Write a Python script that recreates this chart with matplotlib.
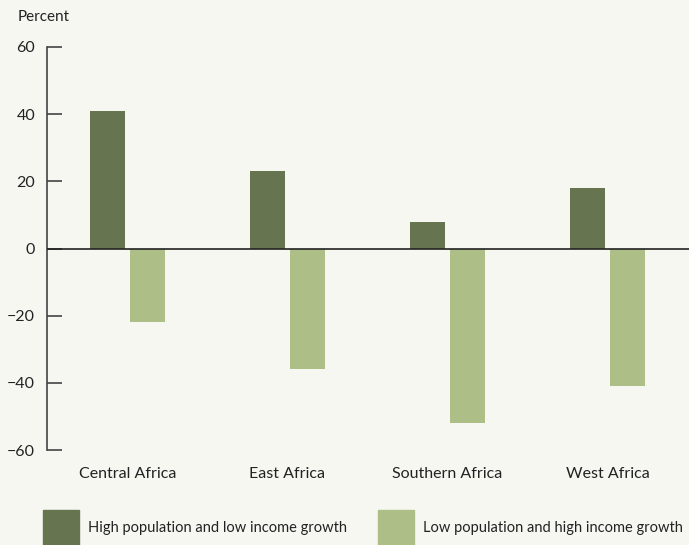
import matplotlib.pyplot as plt
import matplotlib.patches as mpatches
import numpy as np

plt.rcParams['font.family'] = ['Lato', 'DejaVu Sans']

# données
regions = ['Central Africa', 'East Africa', 'Southern Africa', 'West Africa']
high_pop_low_income = [41, 23, 8, 18]
low_pop_high_income = [-22, -36, -52, -41]
series_names = ['High population and low income growth',
                'Low population and high income growth']
y_ticks = [-60, -40, -20, 0, 20, 40, 60]
y_tick_labels = ['\u221260', '\u221240', '\u221220', '0', '20', '40', '60']

dark = '#66754f'
light = '#adbf87'
bg = '#f7f7f2'

fig = plt.figure(figsize=(6.89, 5.45), dpi=100, facecolor=bg)
ax = fig.add_axes([47 / 689, 95 / 545, 1 - 47 / 689, 403 / 545])
ax.set_facecolor(bg)

x = np.arange(len(regions))
w = 0.219
ax.bar(x - 0.125, high_pop_low_income, w, color=dark, zorder=2)
ax.bar(x + 0.125, low_pop_high_income, w, color=light, zorder=2)

# ligne du zéro
ax.axhline(0, color='#222222', lw=1.2, zorder=3)

ax.set_xlim(-0.503, 3.51)
ax.set_ylim(-60, 60)
ax.set_yticks(y_ticks, y_tick_labels)
ax.set_xticks(x, regions)

for s in ['top', 'right', 'bottom']:
    ax.spines[s].set_visible(False)
ax.spines['left'].set_color('#444444')
ax.spines['left'].set_linewidth(1.2)
ax.tick_params(axis='y', direction='in', length=11, width=1.2, color='#444444',
               labelsize=11.5, pad=8.6, labelcolor='#222222')
ax.tick_params(axis='x', length=0, labelsize=11.5, pad=12, labelcolor='#222222')

fig.text(18 / 689, 1 - 17 / 545, 'Percent', fontsize=11, color='#222222',
         va='center', ha='left')

# légende : deux entrées placées séparément
h1 = mpatches.Patch(color=dark, label=series_names[0])
h2 = mpatches.Patch(color=light, label=series_names[1])
common = dict(loc='lower left', frameon=False, fontsize=10.5, handlelength=2.47,
              handleheight=3.3, handletextpad=0.6, borderaxespad=0.0,
              borderpad=0.0, labelcolor='#222222')
fig.legend(handles=[h1], bbox_to_anchor=(43 / 689, 0.0), **common)
fig.legend(handles=[h2], bbox_to_anchor=(378 / 689, 0.0), **common)

fig.savefig('out.png', dpi=100, facecolor=bg)
